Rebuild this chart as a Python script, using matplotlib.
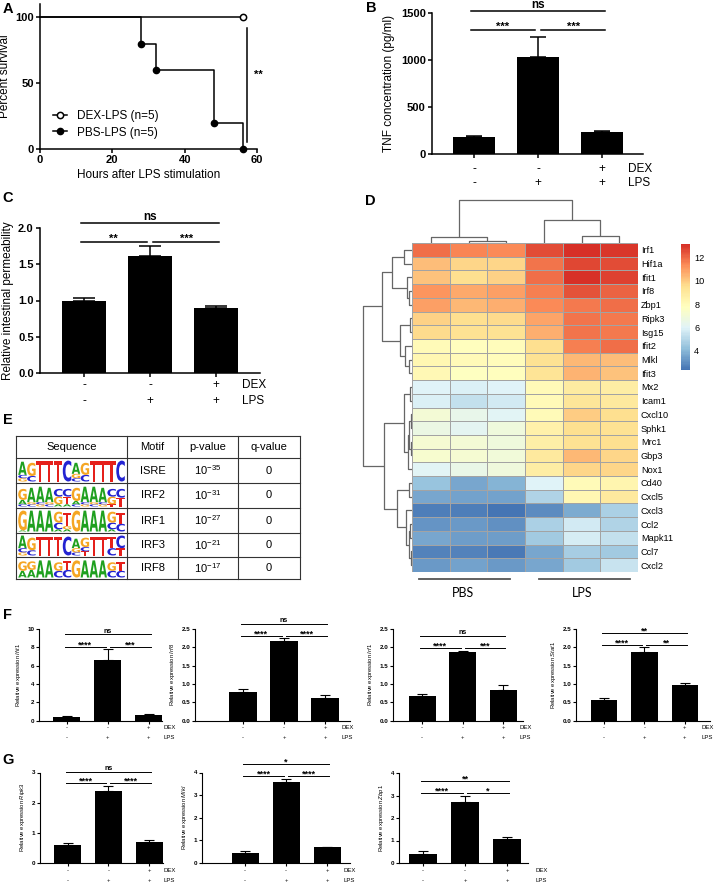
import numpy as np
import matplotlib
matplotlib.use('Agg')
import matplotlib.pyplot as plt
from matplotlib.colors import LinearSegmentedColormap
from matplotlib.textpath import TextPath
from matplotlib.patches import PathPatch
from matplotlib.font_manager import FontProperties
from matplotlib.transforms import Affine2D, blended_transform_factory
from matplotlib.lines import Line2D

plt.rcParams['font.family'] = ['Liberation Sans', 'DejaVu Sans']
plt.rcParams['mathtext.fontset'] = 'custom'
plt.rcParams['mathtext.rm'] = 'Liberation Sans'
plt.rcParams['mathtext.it'] = 'Liberation Sans:italic'
plt.rcParams['mathtext.bf'] = 'Liberation Sans:bold'

# ---------------- data ----------------
# A: survival
dex_hours = [0, 56]
dex_surv = [100, 100]
pbs_hours = [0, 28, 32, 48, 56]
pbs_surv = [100, 80, 60, 20, 0]
group_labels = ['DEX-LPS (n=5)', 'PBS-LPS (n=5)']

# treatment rows under the bar charts
dex = ['-', '-', '+']
lps = ['-', '+', '+']

# B: TNF
tnf_mean = [185, 1030, 230]
tnf_err = [10, 220, 10]
tnf_sig = ['ns', '***', '***']

# C: permeability
perm_mean = [1.0, 1.62, 0.89]
perm_err = [0.03, 0.13, 0.04]
perm_sig = ['ns', '**', '***']

# D: heatmap
genes = ['Irf1', 'Hif1a', 'Ifit1', 'Irf8', 'Zbp1', 'Ripk3', 'Isg15', 'Ifit2',
         'Mlkl', 'Ifit3', 'Mx2', 'Icam1', 'Cxcl10', 'Sphk1', 'Mrc1', 'Gbp3',
         'Nox1', 'Cd40', 'Cxcl5', 'Cxcl3', 'Ccl2', 'Mapk11', 'Ccl7', 'Cxcl2']
expr = np.array([
    [12.0, 11.5, 11.4, 12.6, 13.2, 13.0],
    [10.3, 9.8, 9.8, 11.8, 12.7, 12.6],
    [10.2, 9.6, 9.9, 12.0, 13.2, 12.8],
    [11.2, 10.8, 11.0, 11.6, 12.5, 12.2],
    [11.0, 10.4, 10.6, 11.4, 11.7, 12.0],
    [9.9, 9.6, 9.7, 10.9, 11.8, 11.7],
    [9.7, 9.4, 9.4, 10.6, 11.8, 11.7],
    [8.0, 7.8, 7.9, 9.6, 11.6, 12.0],
    [8.2, 8.0, 7.9, 9.4, 10.4, 10.3],
    [8.1, 7.7, 7.8, 9.3, 10.5, 10.2],
    [6.0, 5.8, 5.9, 8.0, 8.9, 8.8],
    [5.8, 5.3, 5.6, 8.0, 9.2, 9.0],
    [7.0, 6.4, 6.1, 8.0, 10.0, 9.6],
    [6.6, 6.2, 6.8, 8.6, 9.6, 9.4],
    [7.1, 7.0, 6.8, 8.7, 9.4, 9.6],
    [7.3, 7.1, 6.9, 9.0, 10.4, 9.8],
    [6.1, 6.5, 6.8, 8.8, 9.8, 9.8],
    [4.3, 3.6, 3.9, 5.9, 8.0, 8.3],
    [3.6, 3.4, 3.4, 4.9, 8.2, 9.0],
    [2.6, 2.6, 2.4, 2.9, 3.7, 4.8],
    [3.1, 3.2, 3.0, 4.7, 5.6, 4.9],
    [3.6, 3.3, 3.3, 4.5, 5.7, 5.3],
    [2.7, 2.7, 2.5, 3.5, 4.6, 4.5],
    [3.2, 3.4, 3.2, 3.5, 4.5, 5.4],
])
col_merges = [(1, 2, 2.3), (0, 6, 5.7), (4, 5, 7), (3, 8, 23), (7, 9, 43)]
row_merges = [(0, 1, 8.3), (3, 4, 3.3), (2, 25, 5), (24, 26, 20),
              (5, 6, 1.7), (8, 9, 3), (7, 29, 6.7), (28, 30, 11.7), (27, 31, 30),
              (10, 11, 2), (12, 13, 1.5), (14, 15, 1.5), (34, 35, 3), (36, 16, 4.5),
              (33, 37, 8), (17, 18, 3.5), (20, 21, 2), (22, 23, 1.5), (40, 41, 3),
              (19, 42, 6), (39, 43, 15), (38, 44, 28), (32, 45, 49)]
cbar_ticks = [4, 6, 8, 10, 12]

# E: motif table
motifs = ['ISRE', 'IRF2', 'IRF1', 'IRF3', 'IRF8']
p_exp = [-35, -31, -27, -21, -17]
q_vals = ['0', '0', '0', '0', '0']
logos = [
    ["A.6 G.15 C.15", "G.6 C.25", "T.95", "T.95", "T.95", "C.95",
     "A.5 G.2 C.15", "G.55 C.3", "T.95", "T.95", "T.95", "C.95"],
    ["G.5 A.2 C.1", "A.65 C.1 G.1", "A.7 G.1 C.1", "A.65 C.1 G.1", "G.35 C.35 A.1", "T.35 C.35 A.1",
     "G.6 A.15 C.1", "A.7 G.1 C.1", "A.7 C.1 G.1", "A.65 G.1 C.1", "G.35 C.35 T.1", "T.4 C.4"],
    ["G.9 A.05", "A.95", "A.95", "A.95", "G.5 C.3 A.1", "T.6 G.15 A.1",
     "G.95", "A.95", "A.95", "A.95", "G.5 C.3 A.1", "T.5 C.35"],
    ["A.6 G.15 C.2", "G.6 C.25", "T.9", "T.9", "T.9", "C.9",
     "A.45 G.2 C.15", "G.45 T.2 C.2", "T.9", "T.9", "T.55 C.35", "C.6 T.35"],
    ["G.5 A.35", "G.45 A.4", "A.9", "A.9", "G.45 C.35", "T.45 C.4",
     "G.9", "A.9", "A.9", "A.9", "G.45 C.35", "T.45 C.35"],
]
table_header = ['Sequence', 'Motif', 'p-value', 'q-value']

# F / G: qPCR
f_genes = ['Ifit1', 'Irf8', 'Irf1', 'Stat1']
f_mean = [[0.35, 6.6, 0.65], [0.78, 2.16, 0.62], [0.67, 1.88, 0.85], [0.57, 1.88, 0.97]]
f_err = [[0.15, 1.2, 0.1], [0.09, 0.10, 0.08], [0.06, 0.03, 0.12], [0.06, 0.14, 0.07]]
f_ticks = [[0, 2, 4, 6, 8, 10], [0, 0.5, 1.0, 1.5, 2.0, 2.5], [0, 0.5, 1.0, 1.5, 2.0, 2.5], [0, 0.5, 1.0, 1.5, 2.0, 2.5]]
f_sig = [['ns', '****', '***'], ['ns', '****', '****'], ['ns', '****', '***'], ['**', '****', '**']]
f_sig_y = [(9.45, 8.04), (2.64, 2.31), (2.31, 1.98), (2.39, 2.06)]

g_genes = ['Ripk3', 'Mlkl', 'Zbp1']
g_mean = [[0.60, 2.40, 0.70], [0.45, 3.57, 0.68], [0.42, 2.72, 1.05]]
g_err = [[0.07, 0.14, 0.04], [0.07, 0.16, 0.03], [0.10, 0.26, 0.10]]
g_ticks = [[0, 1, 2, 3], [0, 1, 2, 3, 4], [0, 1, 2, 3, 4]]
g_sig = [['ns', '****', '****'], ['*', '****', '****'], ['**', '****', '*']]
g_sig_y = [(3.02, 2.65), (4.38, 3.85), (3.64, 3.11)]

# ---------------- figure ----------------
W, H = 720, 886
fig = plt.figure(figsize=(W / 100, H / 100), dpi=100)


def px_axes(l, t, r, b):
    return fig.add_axes([l / W, 1 - b / H, (r - l) / W, (b - t) / H])


def ftext(x, y, s, **kw):
    return fig.text(x / W, 1 - y / H, s, **kw)


def gp_style(ax, lw, ticklen):
    for s in ['top', 'right']:
        ax.spines[s].set_visible(False)
    for s in ['left', 'bottom']:
        ax.spines[s].set_linewidth(lw)
    ax.tick_params(direction='out', width=lw, length=ticklen, pad=1.5)


def cond_rows(ax, y1, y2, xlab, fs):
    tr = blended_transform_factory(ax.transData, fig.transFigure)
    for i in range(3):
        ax.text(i, 1 - y1 / H, dex[i], transform=tr, ha='center', va='center', fontsize=fs)
        ax.text(i, 1 - y2 / H, lps[i], transform=tr, ha='center', va='center', fontsize=fs)
    ftext(xlab, y1, 'DEX', ha='left', va='center', fontsize=fs)
    ftext(xlab, y2, 'LPS', ha='left', va='center', fontsize=fs)


def sig_bars(ax, y_top, y_low, labels, lw, star_fs, ns_fs, star_off, ns_off):
    pairs = [(0, 2, y_top, labels[0]), (0, 1, y_low, labels[1]), (1, 2, y_low, labels[2])]
    for i, j, y, lab in pairs:
        x0 = i - 0.05 if i == 0 else i + 0.05
        x1 = j + 0.05 if j == 2 else j - 0.05
        ax.plot([x0, x1], [y, y], color='black', lw=lw, clip_on=False)
        star = '*' in lab
        ax.annotate(lab, ((x0 + x1) / 2, y), xytext=(0, star_off if star else ns_off),
                    textcoords='offset points', ha='center', va='baseline',
                    fontsize=star_fs if star else ns_fs, fontweight='bold',
                    annotation_clip=False)


def bar_panel(ax, means, errs, ylim, yticks, fmt, xlim, lw, capsize, tick_fs, ticklen):
    x = np.arange(len(means))
    ax.bar(x, means, width=0.66, color='black', zorder=2)
    ax.errorbar(x, means, yerr=[np.zeros(len(errs)), errs], fmt='none', ecolor='black',
                elinewidth=lw, capsize=capsize, capthick=lw, zorder=1)
    ax.set_xlim(xlim)
    ax.set_ylim(ylim)
    ax.set_xticks(x, [''] * len(x))
    ax.set_yticks(yticks, [fmt.format(t) for t in yticks], fontweight='bold', fontsize=tick_fs)
    gp_style(ax, lw, ticklen)


# panel letters
for lab, (x, y) in zip('ABCDEFG', [(8, 9), (371, 8), (8, 198), (370, 201), (8, 420), (8, 615), (8, 760)]):
    ftext(x, y, lab, fontsize=10.5, fontweight='bold', ha='center', va='center')

# ---- A ----
axA = px_axes(40, 4, 257, 149)
axA.plot(dex_hours, dex_surv, drawstyle='steps-post', color='black', lw=1.1, marker='o',
         mfc='white', mec='black', mew=1.1, ms=4.5, markevery=[len(dex_hours) - 1], clip_on=False, zorder=3)
axA.plot(pbs_hours, pbs_surv, drawstyle='steps-post', color='black', lw=1.1, marker='o',
         ms=4.5, markevery=list(range(1, len(pbs_hours))), clip_on=False, zorder=3)
axA.set_xlim(0, 60)
axA.set_ylim(0, 110)
axA.set_xticks([0, 20, 40, 60], ['0', '20', '40', '60'], fontweight='bold', fontsize=8)
axA.set_yticks([0, 50, 100], ['0', '50', '100'], fontweight='bold', fontsize=8)
gp_style(axA, 1.1, 3)
axA.set_xlabel('Hours after LPS stimulation', fontsize=8.5, labelpad=3)
axA.set_ylabel('Percent survival', fontsize=8.5, labelpad=3)
axA.plot([57.3, 57.3], [5, 92], color='black', lw=1.1, clip_on=False)
axA.text(60.5, 56, '**', fontsize=8, fontweight='bold', ha='center', va='center')
handles = [Line2D([], [], color='black', lw=1.1, marker='o', mfc='white', mec='black', mew=1.1, ms=4.5),
           Line2D([], [], color='black', lw=1.1, marker='o', ms=4.5)]
axA.legend(handles, group_labels, loc='center left', bbox_to_anchor=(53 / W, 1 - 124.5 / H),
           bbox_transform=fig.transFigure, frameon=False, fontsize=8.5, handlelength=1.2,
           handletextpad=0.8, labelspacing=0.35, borderpad=0, borderaxespad=0)

# ---- B ----
axB = px_axes(432, 13, 643, 154)
bar_panel(axB, tnf_mean, tnf_err, (0, 1500), [0, 500, 1000, 1500], '{:g}', (-0.66, 2.64), 1.1, 6, 8, 3)
axB.set_ylabel('TNF concentration (pg/ml)', fontsize=8.5, labelpad=4)
sig_bars(axB, 1521, 1319, tnf_sig, 1.1, 8, 8.5, 0, 2.2)
cond_rows(axB, 169, 183, 628, 8.5)

# ---- C ----
axC = px_axes(40, 228, 260, 373)
bar_panel(axC, perm_mean, perm_err, (0, 2), [0, 0.5, 1.0, 1.5, 2.0], '{:.1f}', (-0.667, 2.667), 1.1, 8, 8, 3)
axC.set_ylabel('Relative intestinal permeability', fontsize=8.5, labelpad=3)
sig_bars(axC, 2.07, 1.81, perm_sig, 1.1, 8, 8.5, 0, 2.2)
cond_rows(axC, 385, 401, 242, 8.5)

# ---- D ----
rdylbu7 = ['#4575B4', '#91BFDB', '#E0F3F8', '#FFFFBF', '#FEE090', '#FC8D59', '#D73027']
cmap = LinearSegmentedColormap.from_list('ph', rdylbu7, N=100)
axH = px_axes(412, 243, 638, 572)
nrow, ncol = expr.shape
mesh = axH.pcolormesh(np.arange(ncol + 1) - 0.5, np.arange(nrow + 1) - 0.5, expr, cmap=cmap,
                      vmin=2.3, vmax=13.2, edgecolors='#a3a3a3', linewidth=0.6)
axH.set_xlim(-0.5, ncol - 0.5)
axH.set_ylim(nrow - 0.5, -0.5)
axH.set_xticks([])
axH.yaxis.tick_right()
axH.set_yticks(range(nrow), genes, fontsize=6.6)
axH.tick_params(axis='y', length=0, pad=2)
for s in axH.spines.values():
    s.set_visible(False)

cax = px_axes(681, 244, 690, 370)
cb = fig.colorbar(mesh, cax=cax, ticks=cbar_ticks)
cb.outline.set_visible(False)
cax.tick_params(length=0, labelsize=6.6, pad=3)


def draw_dendro(ax, merges, n, orient):
    pos = [float(i) for i in range(n)]
    hgt = [0.0] * n
    for a, b, h in merges:
        xs = [pos[a], pos[a], pos[b], pos[b]]
        ys = [hgt[a], h, h, hgt[b]]
        if orient == 'top':
            ax.plot(xs, ys, color='#666666', lw=0.9, solid_capstyle='butt')
        else:
            ax.plot(ys, xs, color='#666666', lw=0.9, solid_capstyle='butt')
        pos.append((pos[a] + pos[b]) / 2)
        hgt.append(h)
    ax.axis('off')


axCD = px_axes(412, 198, 638, 243)
draw_dendro(axCD, col_merges, ncol, 'top')
axCD.set_xlim(-0.5, ncol - 0.5)
axCD.set_ylim(0, 45)

axRD = px_axes(361, 243, 412, 572)
draw_dendro(axRD, row_merges, nrow, 'left')
axRD.set_xlim(51, 0)
axRD.set_ylim(nrow - 0.5, -0.5)

for (x0, x1), lab in zip([(419, 510), (539, 630)], ['PBS', 'LPS']):
    fig.add_artist(Line2D([x0 / W, x1 / W], [1 - 579 / H, 1 - 579 / H], color='#555555', lw=1.3))
    ftext((x0 + x1) / 2 - 2, 593, lab, fontsize=9, family='Lato', ha='center', va='center')

# ---- E ----
axE = px_axes(10, 430, 305, 585)
axE.set_xlim(10, 305)
axE.set_ylim(585, 430)
axE.axis('off')
col_x = [16, 127, 178, 238, 300]
row_y = [436, 458, 483, 508, 533, 557, 579]
for y in row_y:
    axE.plot([col_x[0], col_x[-1]], [y, y], color='#333333', lw=0.8)
for x in col_x:
    axE.plot([x, x], [row_y[0], row_y[-1]], color='#333333', lw=0.8)
for k, h in enumerate(table_header):
    axE.text((col_x[k] + col_x[k + 1]) / 2, (row_y[0] + row_y[1]) / 2, h, ha='center', va='center', fontsize=8)

letter_colors = {'A': '#1fa01f', 'C': '#2323d2', 'G': '#f5a623', 'T': '#e5201b'}
logo_fp = FontProperties(family='DejaVu Sans', weight='bold')


def draw_letter(ax, ch, x, y_bottom, w, h):
    tp = TextPath((0, 0), ch, size=1, prop=logo_fp)
    bb = tp.get_extents()
    tr = Affine2D().translate(-bb.x0, -bb.y0).scale(w / bb.width, -h / bb.height).translate(x, y_bottom)
    ax.add_patch(PathPatch(tr.transform_path(tp), fc=letter_colors[ch], lw=0))


for r in range(len(motifs)):
    top, bot = row_y[r + 1], row_y[r + 2]
    cy = (top + bot) / 2
    axE.text((col_x[1] + col_x[2]) / 2, cy, motifs[r], ha='center', va='center', fontsize=8)
    axE.text((col_x[2] + col_x[3]) / 2, cy, r'10$^{%d}$' % p_exp[r], ha='center', va='center', fontsize=8)
    axE.text((col_x[3] + col_x[4]) / 2, cy, q_vals[r], ha='center', va='center', fontsize=8)
    logo = logos[r]
    inner_h = bot - top - 3
    lx0, lx1 = col_x[0] + 2, col_x[1] - 2
    w = (lx1 - lx0) / len(logo)
    for p, col in enumerate(logo):
        items = [(tok[0], float(tok[1:])) for tok in col.split()]
        items.sort(key=lambda t: t[1])
        y = bot - 1.5
        for ch, frac in items:
            hh = frac * inner_h
            draw_letter(axE, ch, lx0 + p * w + 0.2, y, w - 0.4, hh)
            y -= hh

# ---- F / G ----
f_boxes = [(39, 162), (195, 350), (393, 523), (576, 710)]
f_xlim = [(-0.68, 2.32), (-1.17, 2.61), (-0.72, 2.49), (-0.69, 2.62)]
f_lab_x = [164, 342, 519, 702]
for k in range(len(f_genes)):
    ax = px_axes(f_boxes[k][0], 629, f_boxes[k][1], 720.7)
    t = f_ticks[k]
    fmt = '{:g}' if max(t) > 5 else '{:.1f}'
    bar_panel(ax, f_mean[k], f_err[k], (0, max(t)), t, fmt, f_xlim[k], 0.8, 3.5, 4.5, 2)
    ax.set_ylabel(r'Relative expression $\mathit{%s}$' % f_genes[k], fontsize=4.2, labelpad=3)
    sig_bars(ax, f_sig_y[k][0], f_sig_y[k][1], f_sig[k], 0.7, 6.5, 5, -0.3, 1.1)
    cond_rows(ax, 727.3, 737.3, f_lab_x[k], 4.3)

g_boxes = [(40, 163, 772.5, 862.7), (202, 350, 772.5, 862.7), (399, 528, 773, 863)]
g_xlim = [(-0.68, 2.34), (-1.05, 2.56), (-0.57, 2.5)]
g_lab_x = [163, 343, 535]
for k in range(len(g_genes)):
    l, r, t0, b0 = g_boxes[k]
    ax = px_axes(l, t0, r, b0)
    t = g_ticks[k]
    bar_panel(ax, g_mean[k], g_err[k], (0, max(t)), t, '{:g}', g_xlim[k], 0.8, 3.5, 4.5, 2)
    ax.set_ylabel(r'Relative expression $\mathit{%s}$' % g_genes[k], fontsize=4.2, labelpad=3)
    sig_bars(ax, g_sig_y[k][0], g_sig_y[k][1], g_sig[k], 0.7, 6.5, 5, -0.3, 1.1)
    cond_rows(ax, 871, 881, g_lab_x[k], 4.3)

fig.savefig('out.png', dpi=100)
